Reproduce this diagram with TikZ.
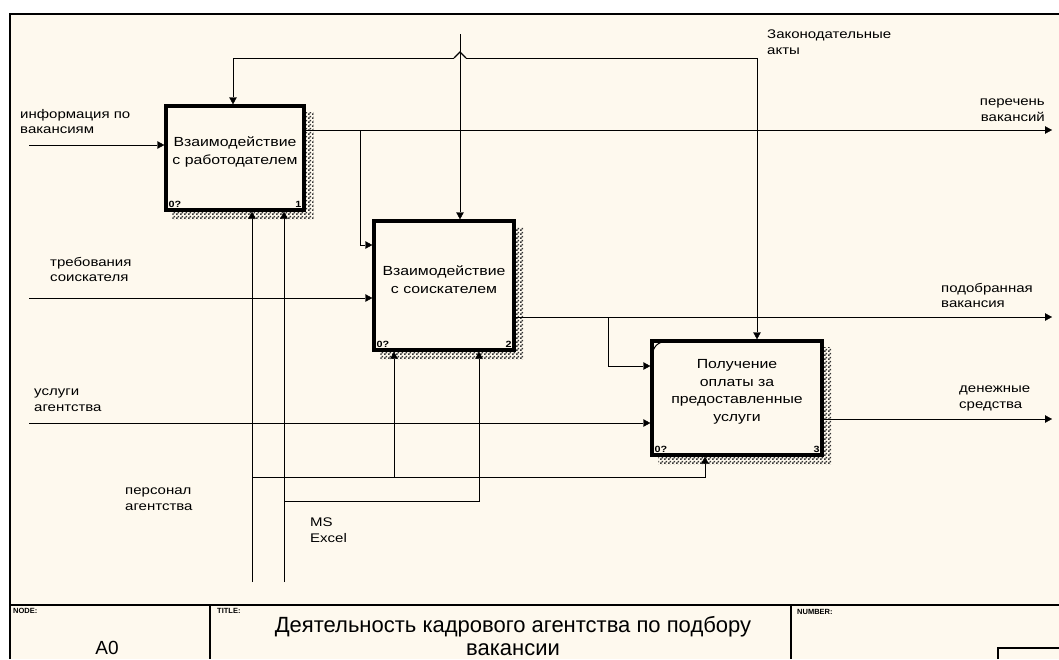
\documentclass[tikz,border=0pt]{standalone}
\usepackage{fontspec}
\setmainfont{Liberation Sans}
\newfontfamily\lblfont[FakeStretch=1.2]{Liberation Sans}
\usetikzlibrary{arrows.meta,patterns,backgrounds}
\definecolor{paper}{HTML}{FEF9EE}
\pgfdeclarepatternformonly{idefhatch}{\pgfpointorigin}{\pgfpoint{4pt}{4pt}}{\pgfpoint{4pt}{4pt}}{%
    \pgfpathrectangle{\pgfpointorigin}{\pgfpoint{2pt}{2pt}}%
    \pgfpathrectangle{\pgfpoint{2pt}{2pt}}{\pgfpoint{2pt}{2pt}}%
    \pgfusepath{fill}}

\begin{document}
\begin{tikzpicture}[x=1pt, y=-1pt, line width=1.6pt, >={Triangle[length=7pt,width=7.5pt]},
        every node/.style={inner sep=0pt, font=\lblfont\fontsize{12.5}{15.5}\selectfont},
        box/.style={draw, fill=paper, line width=3.4pt},
        boxtext/.style={align=center, font=\lblfont\fontsize{13.2}{17.5}\selectfont},
        tag/.style={font=\lblfont\fontsize{9}{9}\selectfont\bfseries},
        lbl/.style={anchor=north west, align=left},
        tiny/.style={anchor=north west, font=\fontsize{7.5}{8}\selectfont\bfseries}]
                \useasboundingbox (0,0) rectangle (1059,659);
                \begin{pgfonlayer}{background}
                    \fill[white] (0,0) rectangle (1059,659);
                    \fill[paper] (10,14) rectangle (1059,659);
                \end{pgfonlayer}

                % Frame and title block
                \draw[line width=1.6pt] (1059,14) -- (10,14) -- (10,659);
                \draw[line width=1.6pt] (10,605) -- (1059,605);
                \draw[line width=1.6pt] (210,605) -- (210,659);
                \draw[line width=1.6pt] (791,605) -- (791,659);
                \draw[line width=1.6pt] (998,659) -- (998,648) -- (1059,648);

                % Activity boxes
                \node[box, minimum width=138pt, minimum height=104pt] (B1) at (235,158) {};
                \node[box, minimum width=140pt, minimum height=129pt] (B2) at (444,285.5) {};
                \node[box, minimum width=170pt, minimum height=114pt] (B3) at (737,398) {};
                \node[boxtext] (T1) at ([yshift=6pt]B1.center) {Взаимодействие\\с работодателем};
                \node[boxtext] (T2) at ([yshift=6pt]B2.center) {Взаимодействие\\с соискателем};
                \node[boxtext] (T3) at ([yshift=6pt]B3.center) {Получение\\оплаты за\\предоставленные\\услуги};
                \foreach \b/\n in {B1/1,B2/2,B3/3} {
                    \node[tag, anchor=south west] (\b z) at ([shift={(4,-4)}]\b.south west) {0?};
                    \node[tag, anchor=south east] (\b n) at ([shift={(-4,-4)}]\b.south east) {\n};
                }
                \draw[line width=1pt] ([shift={(3,11)}]B3.north west) to[bend left=25] ([shift={(11,3)}]B3.north west);

                % Hatched shadows
                \begin{pgfonlayer}{background}
                    \foreach \b in {B1,B2,B3} {
                        \fill[pattern=idefhatch, pattern color=black!80]
                            ([shift={(8,8)}]\b.north west) rectangle ([shift={(8,8)}]\b.south east);
                    }
                \end{pgfonlayer}

                % Inputs
                \coordinate (I1) at (29,145);
                \coordinate (I2) at (29,298);
                \coordinate (I3) at (29,423);
                \draw[->] (I1) -- (I1 -| B1.west);
                \draw[->] (I2) -- (I2 -| B2.west);
                \draw[->] (I3) -- (I3 -| B3.west);

                % Outputs
                \coordinate (O1) at (1052,130);
                \coordinate (O2) at (1052,317);
                \coordinate (O3) at (1052,419);
                \draw[->] (O1 -| B1.east) -- (O1);
                \draw[->] (O2 -| B2.east) -- (O2);
                \draw[->] (O3 -| B3.east) -- (O3);
                \coordinate (J1) at (360,130);
                \coordinate (J2) at (608,317);
                \draw[->] (J1) |- (B2.west |- 0,245);
                \draw[->] (J2) |- (B3.west |- 0,366);

                % Controls
                \coordinate (C0) at (460,34);
                \coordinate (L1) at (600,58);
                \coordinate (H1) at (466,58);
                \coordinate (H2) at (454,58);
                \draw[->] (C0) -- (C0 |- B2.north);
                \draw[->] (L1) -| (B3.north -| 757,0);
                \draw (L1) -- (H1);
                \draw[line width=1.2pt] (H1) -- (460,52) -- (H2);
                \draw[->] (H2) -| (B1.north -| 233,0);

                % Mechanisms
                \coordinate (M1) at (252,582);
                \coordinate (M2) at (284,582);
                \coordinate (J3) at (252,477);
                \coordinate (J4) at (284,501);
                \draw[->] (M1) -- (M1 |- B1.south);
                \draw[->] (M2) -- (M2 |- B1.south);
                \draw[->] (J3) -| (B2.south -| 394,0);
                \draw[->] (J3) -| (B3.south -| 705,0);
                \draw[->] (J4) -| (B2.south -| 479,0);

                % Arrow labels
                \node[lbl] (Linfo) at (20,109) {информация по\\вакансиям};
                \node[lbl] (Ltreb) at (50,257) {требования\\соискателя};
                \node[lbl] (Luslu) at (34,389) {услуги\\агентства};
                \node[lbl] (Lzak) at (767,30) {Законодательные\\акты};
                \node[lbl, anchor=north east, align=right] (Lper) at (1045,99) {перечень\\вакансий};
                \node[lbl] (Lpod) at (941,283) {подобранная\\вакансия};
                \node[lbl] (Lden) at (959,386) {денежные\\средства};
                \node[lbl] (Lpers) at (125,488) {персонал\\агентства};
                \node[lbl] (Lexcel) at (310,518) {MS\\Excel};

                % Title block texts
                \node[tiny] (Hnode) at (13,608) {NODE:};
                \node[tiny] (Htitle) at (217,608) {TITLE:};
                \node[tiny] (Hnum) at (797,609) {NUMBER:};
                \node[font=\fontsize{19}{20}\selectfont] (A0) at (107,648) {A0};
                \node[align=center, font=\fontsize{22}{23}\selectfont] (Title) at (513,636) {Деятельность кадрового агентства по подбору\\вакансии};
            \end{tikzpicture}
\end{document}
